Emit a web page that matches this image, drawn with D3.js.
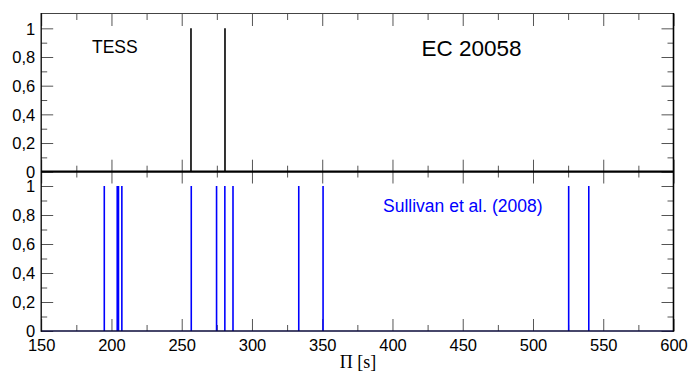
<!DOCTYPE html>
<html>
<head>
<meta charset="utf-8">
<script src="https://cdn.jsdelivr.net/npm/d3@7"></script>
<style>
  body { margin: 0; background: #fff; }
  svg text { font-family: "Liberation Sans", Arial, sans-serif; }
  .tick line { stroke: #555; }
  .domain { display: none; }
</style>
</head>
<body>
<div id="chart"></div>
<script>
// periods [s]
var tessPeriods = [256.6, 280.8];
var tessAmp = [1, 1];
var sullivanPeriods = [194.9, 204.1, 205.0, 207.4, 256.8, 274.8, 280.7, 286.5, 333.3, 350.6, 525.4, 539.7];
var sullivanAmp = [1, 1, 1, 1, 1, 1, 1, 1, 1, 1, 1, 1];

var xMajor = [150, 200, 250, 300, 350, 400, 450, 500, 550, 600];
var xMinor = [175, 225, 275, 325, 375, 425, 475, 525, 575];
var yMajor = [0, 0.2, 0.4, 0.6, 0.8, 1];
var yMinor = [0.1, 0.3, 0.5, 0.7, 0.9];

var width = 691, height = 374;
var left = 41.2, right = 673.5;

var svg = d3.select("#chart").append("svg")
    .attr("width", width)
    .attr("height", height);

var x = d3.scaleLinear().domain([150, 600]).range([left, right]);

var fmt = d3.formatLocale({ decimal: ",", thousands: ".", grouping: [3], currency: ["", ""] }).format("~g");

function drawPanel(yRange, periods, amps, color, showXLabels){
    var y = d3.scaleLinear().domain([0, 1.1]).range(yRange);
    var g = svg.append("g");
    var top = yRange[1], bottom = yRange[0];

    // minor ticks
    g.append("g").attr("transform", "translate(" + left + ",0)")
        .call(d3.axisLeft(y).tickValues(yMinor).tickSize(-6).tickFormat(""));
    g.append("g").attr("transform", "translate(" + right + ",0)")
        .call(d3.axisRight(y).tickValues(yMinor).tickSize(-6).tickFormat(""));
    g.append("g").attr("transform", "translate(0," + bottom + ")")
        .call(d3.axisBottom(x).tickValues(xMinor).tickSize(-6).tickFormat(""));
    g.append("g").attr("transform", "translate(0," + top + ")")
        .call(d3.axisTop(x).tickValues(xMinor).tickSize(-6).tickFormat(""));

    // major ticks
    var yl = g.append("g").attr("transform", "translate(" + left + ",0)")
        .call(d3.axisLeft(y).tickValues(yMajor).tickSize(-12).tickPadding(6).tickFormat(fmt));
    yl.selectAll("text").style("font-size", "16.5px").attr("fill", "#000").attr("dy", "0.36em");
    g.append("g").attr("transform", "translate(" + right + ",0)")
        .call(d3.axisRight(y).tickValues(yMajor).tickSize(-12).tickFormat(""));
    var xl = g.append("g").attr("transform", "translate(0," + bottom + ")")
        .call(d3.axisBottom(x).tickValues(xMajor).tickSize(-12).tickPadding(6)
            .tickFormat(showXLabels ? d3.format("d") : ""));
    xl.selectAll("text").style("font-size", "16.5px").attr("fill", "#000").attr("y", 8).attr("dy", "0.72em");
    g.append("g").attr("transform", "translate(0," + top + ")")
        .call(d3.axisTop(x).tickValues(xMajor).tickSize(-12).tickFormat(""));

    // period lines
    g.selectAll(".mode")
        .data(periods)
        .enter().append("line")
        .attr("class", "mode")
        .attr("x1", function(d) { return x(d); })
        .attr("x2", function(d) { return x(d); })
        .attr("y1", y(0))
        .attr("y2", function(d, i) { return y(amps[i]); })
        .attr("stroke", color)
        .attr("stroke-width", 1.6);

    return y;
}

var yTop = drawPanel([171.7, 14], tessPeriods, tessAmp, "#000", false);
var yBot = drawPanel([331, 171.5], sullivanPeriods, sullivanAmp, "#0000ff", true);

// frame
svg.append("line").attr("x1", left).attr("x2", right).attr("y1", 13.5).attr("y2", 13.5)
    .attr("stroke", "#444").attr("stroke-width", 1.2);
svg.append("line").attr("x1", left).attr("x2", right).attr("y1", 171.7).attr("y2", 171.7)
    .attr("stroke", "#000").attr("stroke-width", 2.2);
svg.append("line").attr("x1", left).attr("x2", right).attr("y1", 331).attr("y2", 331)
    .attr("stroke", "#0a0a3a").attr("stroke-width", 1.6);
svg.append("line").attr("x1", left).attr("x2", left).attr("y1", 13).attr("y2", 331.8)
    .attr("stroke", "#000").attr("stroke-width", 1.3);
svg.append("line").attr("x1", right).attr("x2", right).attr("y1", 13).attr("y2", 331.8)
    .attr("stroke", "#000").attr("stroke-width", 1.6);

// labels
svg.append("text").attr("x", 92).attr("y", 52.5)
    .style("font-size", "17.5px").text("TESS");
svg.append("text").attr("x", 421.5).attr("y", 56)
    .style("font-size", "22.5px").text("EC 20058");
svg.append("text").attr("x", 383).attr("y", 212)
    .style("font-size", "17.5px").attr("fill", "#0000ff").text("Sullivan et al. (2008)");
svg.append("text").attr("x", 358).attr("y", 368)
    .attr("text-anchor", "middle")
    .style("font-family", "'Liberation Serif', 'Times New Roman', serif")
    .style("font-size", "18px").text("\u03A0 [s]");
</script>
</body>
</html>
